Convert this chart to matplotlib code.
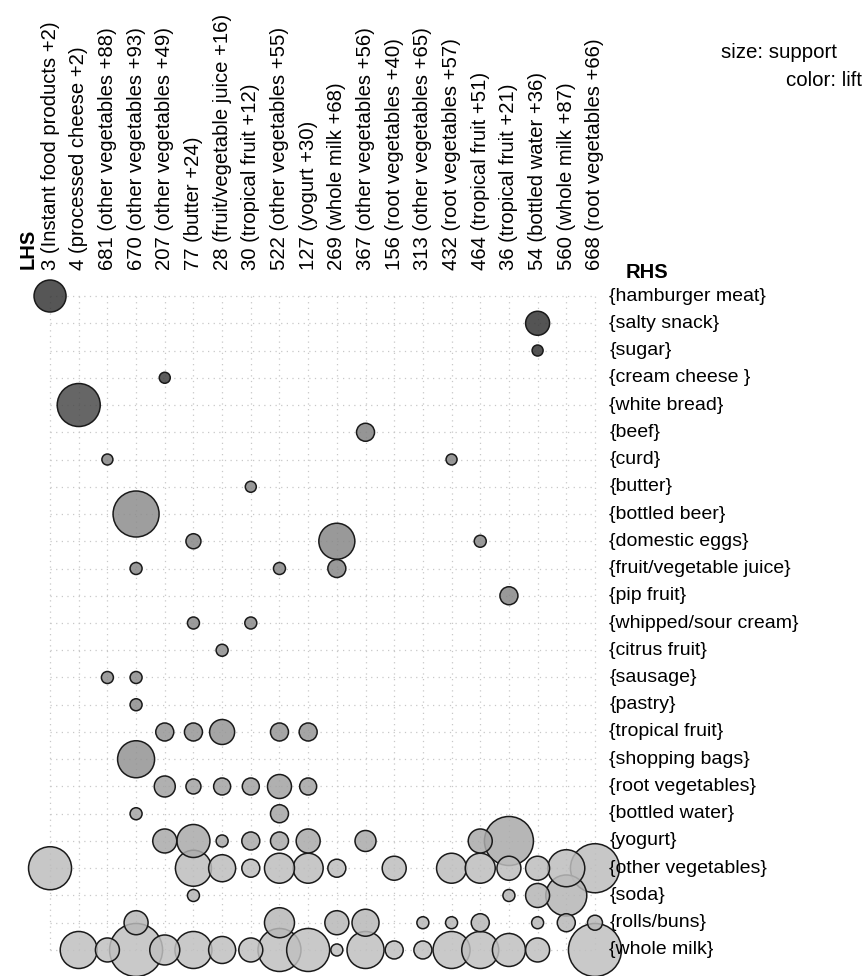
import numpy as np
import matplotlib
matplotlib.use('Agg')
from matplotlib import pyplot as plt

plt.rcParams['font.family'] = ['Liberation Sans', 'DejaVu Sans']

lhs_groups = ['3 (Instant food products +2)', '4 (processed cheese +2)',
              '681 (other vegetables +88)', '670 (other vegetables +93)',
              '207 (other vegetables +49)', '77 (butter +24)',
              '28 (fruit/vegetable juice +16)', '30 (tropical fruit +12)',
              '522 (other vegetables +55)', '127 (yogurt +30)',
              '269 (whole milk +68)', '367 (other vegetables +56)',
              '156 (root vegetables +40)', '313 (other vegetables +65)',
              '432 (root vegetables +57)', '464 (tropical fruit +51)',
              '36 (tropical fruit +21)', '54 (bottled water +36)',
              '560 (whole milk +87)', '668 (root vegetables +66)']

rhs_items = ['{hamburger meat}', '{salty snack}', '{sugar}', '{cream cheese }',
             '{white bread}', '{beef}', '{curd}', '{butter}', '{bottled beer}',
             '{domestic eggs}', '{fruit/vegetable juice}', '{pip fruit}',
             '{whipped/sour cream}', '{citrus fruit}', '{sausage}', '{pastry}',
             '{tropical fruit}', '{shopping bags}', '{root vegetables}',
             '{bottled water}', '{yogurt}', '{other vegetables}', '{soda}',
             '{rolls/buns}', '{whole milk}']

# one entry per grouped rule: rhs row, lhs column, support, lift
rule_rhs = [0, 1, 2, 3, 4, 5, 6, 6, 7, 8,
            9, 9, 9, 10, 10, 10, 11, 12, 12, 13, 14, 14, 15,
            16, 16, 16, 16, 16, 17,
            18, 18, 18, 18, 18, 18, 19, 19,
            20, 20, 20, 20, 20, 20, 20, 20, 20,
            21, 21, 21, 21, 21, 21, 21, 21, 21, 21, 21, 21, 21, 21,
            22, 22, 22, 22,
            23, 23, 23, 23, 23, 23, 23, 23, 23, 23,
            24, 24, 24, 24, 24, 24, 24, 24, 24, 24, 24, 24, 24, 24, 24, 24, 24, 24]
rule_lhs = [0, 17, 17, 4, 1, 11, 2, 14, 7, 3,
            5, 10, 15, 3, 8, 10, 16, 5, 7, 6, 2, 3, 3,
            4, 5, 6, 8, 9, 3,
            4, 5, 6, 7, 8, 9, 3, 8,
            4, 5, 6, 7, 8, 9, 11, 15, 16,
            0, 5, 6, 7, 8, 9, 10, 12, 14, 15, 16, 17, 18, 19,
            5, 16, 17, 18,
            3, 8, 10, 11, 13, 14, 15, 17, 18, 19,
            1, 2, 3, 4, 5, 6, 7, 8, 9, 10, 11, 12, 13, 14, 15, 16, 17, 19]
support = [0.032, 0.024, 0.011, 0.011, 0.043, 0.018, 0.011, 0.011, 0.011, 0.046,
           0.015, 0.036, 0.012, 0.012, 0.012, 0.018, 0.018, 0.012, 0.012, 0.012, 0.012, 0.012, 0.012,
           0.018, 0.018, 0.025, 0.018, 0.018, 0.037,
           0.021, 0.015, 0.017, 0.017, 0.024, 0.017, 0.012, 0.018,
           0.024, 0.033, 0.012, 0.018, 0.018, 0.024, 0.021, 0.024, 0.049,
           0.043, 0.036, 0.027, 0.018, 0.030, 0.030, 0.018, 0.024, 0.030, 0.030, 0.024, 0.024, 0.037, 0.049,
           0.012, 0.012, 0.024, 0.041,
           0.024, 0.030, 0.024, 0.027, 0.012, 0.012, 0.018, 0.012, 0.018, 0.015,
           0.037, 0.024, 0.053, 0.030, 0.037, 0.027, 0.024, 0.043, 0.043, 0.012, 0.037, 0.018, 0.018, 0.037, 0.037, 0.033, 0.024, 0.053]
lift = [12.0, 12.3, 12.3, 11.0, 9.5, 4.8, 4.7, 4.7, 4.6, 4.3,
        4.5, 4.5, 4.5, 4.5, 4.5, 4.5, 4.5, 4.4, 4.4, 4.3, 4.3, 4.3, 4.3,
        4.0, 4.0, 4.0, 4.0, 4.0, 4.1,
        3.6, 3.6, 3.6, 3.6, 3.6, 3.6, 3.5, 3.5,
        3.3, 3.3, 3.3, 3.3, 3.3, 3.3, 3.3, 3.3, 3.3,
        2.6, 2.6, 2.6, 2.6, 2.6, 2.6, 2.6, 2.6, 2.6, 2.6, 2.6, 2.6, 2.6, 2.6,
        2.9, 2.9, 2.9, 2.9,
        2.8, 2.8, 2.8, 2.8, 2.8, 2.8, 2.8, 2.8, 2.8, 2.8,
        2.5, 2.5, 2.5, 2.5, 2.5, 2.5, 2.5, 2.5, 2.5, 2.5, 2.5, 2.5, 2.5, 2.5, 2.5, 2.5, 2.5, 2.5]

fig = plt.figure(figsize=(8.64, 9.76), dpi=100)
ax = fig.add_axes([35.7 / 864, 12.4 / 976, 573.6 / 864, 681.2 / 976])
ax.set_xlim(-0.5, len(lhs_groups) - 0.5)
ax.set_ylim(len(rhs_items) - 0.5, -0.5)
ax.axis('off')

# dotted grid only over the matrix
ax.hlines(range(len(rhs_items)), 0, len(lhs_groups) - 1, colors='#c8c8c8',
          linestyles=(0, (1, 3.5)), linewidth=0.9, zorder=0)
ax.vlines(range(len(lhs_groups)), 0, len(rhs_items) - 1, colors='#c8c8c8',
          linestyles=(0, (1, 3.5)), linewidth=0.9, zorder=0)

sup = np.array(support)
lf = np.array(lift)
alpha = 0.85
shown = np.interp(lf, [2.5, 3.5, 4.5, 9.5, 12.3], [0.79, 0.70, 0.60, 0.40, 0.33])
base = np.clip((shown - (1 - alpha)) / alpha, 0, 1)
colors = [(g, g, g, alpha) for g in base]
diam_pt = sup * 1000 * 0.72
order = np.argsort(-sup)
ax.scatter(np.array(rule_lhs)[order], np.array(rule_rhs)[order],
           s=diam_pt[order] ** 2, c=[colors[i] for i in order],
           edgecolors='#1a1a1a', linewidths=1.1, clip_on=False, zorder=3)

for i, lab in enumerate(lhs_groups):
    ax.text(i, -0.95, lab, rotation=90, ha='center', va='bottom', fontsize=14.6)
for j, lab in enumerate(rhs_items):
    ax.text(19.5, j, lab, ha='left', va='center', fontsize=14)

ax.text(-0.75, -1.0, 'LHS', rotation=90, ha='center', va='bottom',
        fontsize=14.5, fontweight='bold')
ax.text(20.08, -0.88, 'RHS', ha='left', va='center', fontsize=14.5, fontweight='bold')

fig.text(721 / 864, 1 - 52 / 976, 'size: support', ha='left', va='center', fontsize=14.8)
fig.text(862 / 864, 1 - 80 / 976, 'color: lift', ha='right', va='center', fontsize=14.8)

fig.savefig('out.png', dpi=100)
